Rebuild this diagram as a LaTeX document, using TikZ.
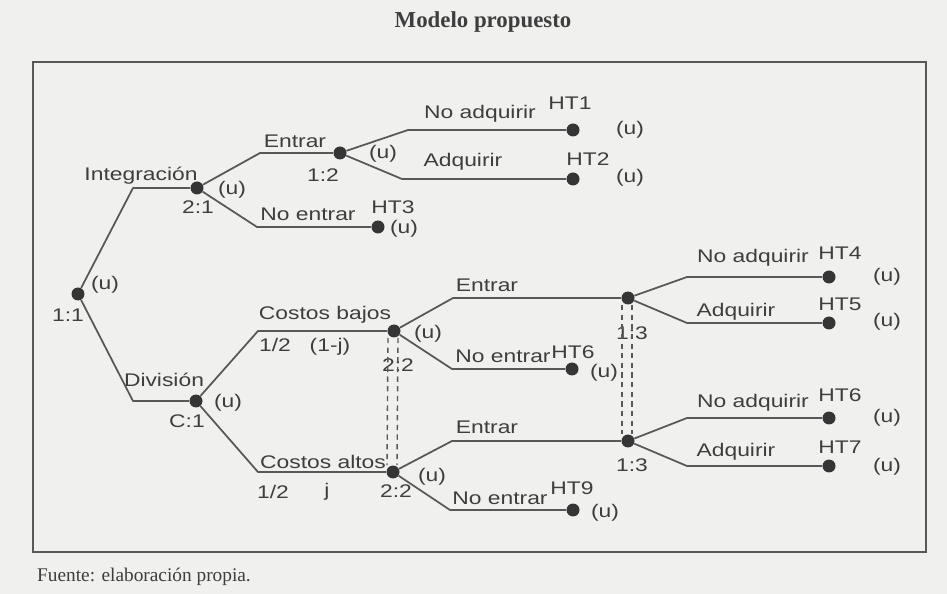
\documentclass[tikz,border=0pt]{standalone}
\usepackage{fontspec}
\setmainfont{Liberation Serif}
\newfontfamily\treefont{Liberation Sans}[FakeStretch=1.25]
\definecolor{paper}{RGB}{240,240,238}
\definecolor{ink}{RGB}{62,62,62}
\definecolor{linegray}{RGB}{88,88,88}

\begin{document}
\begin{tikzpicture}[x=0.02cm, y=-0.02cm,
  dot/.style={circle, fill=ink!85!black, inner sep=0pt, minimum size=0.26cm},
  lbl/.style={font=\treefont\fontsize{10.4}{12}\selectfont, text=ink, inner sep=0pt},
  branch/.style={draw=linegray, line width=1pt, line join=round},
  fork/.style={to path={-- ([shift={(#1,0)}]\tikztostart |- \tikztotarget) -- (\tikztotarget)}},
  infoset/.style={draw=linegray, line width=0.8pt, dash pattern=on 3pt off 2.5pt}]

  % Page and frame
  \fill[paper] (0,0) rectangle (947,594);
  \useasboundingbox (0,0) rectangle (947,594);
  \draw[line width=1.4pt, draw=linegray] (33,62) rectangle (926,552);
  \node[font=\bfseries\fontsize{13}{15}\selectfont, text=ink] (title) at (483,22) {Modelo propuesto};
  \node[font=\fontsize{11}{13}\selectfont, text=ink, anchor=west] (fuente) at (31,577) {Fuente: elaboración propia.};

  % Decision nodes
  \node[dot] (n11) at (78,294) {};
  \node[dot] (n21) at (197,188) {};
  \node[dot] (n12) at (340,153) {};
  \node[dot] (c1) at (196,401) {};
  \node[dot] (n22a) at (394,331) {};
  \node[dot] (n22b) at (393,472) {};
  \node[dot] (n13a) at (628,298) {};
  \node[dot] (n13b) at (628,441) {};

  % Terminal nodes
  \node[dot] (ht1) at (573,130) {};
  \node[dot] (ht2) at (573,179) {};
  \node[dot] (ht3) at (378,227) {};
  \node[dot] (ht6a) at (572,369) {};
  \node[dot] (ht9) at (573,510) {};
  \node[dot] (ht4) at (829,277) {};
  \node[dot] (ht5) at (829,323) {};
  \node[dot] (ht6b) at (829,418) {};
  \node[dot] (ht7) at (829,466) {};

  % Player labels
  \node[lbl] (p11) at (68,315) {1:1};
  \node[lbl] (u11) at (105,285) {(u)};
  \node[lbl] (p21) at (198,207) {2:1};
  \node[lbl] (u21) at (232,190) {(u)};
  \node[lbl] (p12) at (323,175) {1:2};
  \node[lbl] (u12) at (383,154) {(u)};
  \node[lbl] (pc1) at (187,421) {C:1};
  \node[lbl] (uc1) at (228,403) {(u)};
  \node[lbl] (p22a) at (398,365) {2:2};
  \node[lbl] (u22a) at (428,334) {(u)};
  \node[lbl] (p22b) at (396,491) {2:2};
  \node[lbl] (u22b) at (432,477) {(u)};
  \node[lbl] (p13a) at (632,333) {1:3};
  \node[lbl] (p13b) at (632,465) {1:3};

  % Branch labels
  \node[lbl] (lint) at (141,176) {Integración};
  \node[lbl] (ldiv) at (164,380) {División};
  \node[lbl] (lent1) at (295,141) {Entrar};
  \node[lbl] (lnoent1) at (308,214) {No entrar};
  \node[lbl] (lnoadq1) at (480,114) {No adquirir};
  \node[lbl] (ladq1) at (463,162) {Adquirir};
  \node[lbl] (lbajos) at (325,315) {Costos bajos};
  \node[lbl] (lpb) at (275,345) {1/2};
  \node[lbl] (lqb) at (330,347) {(1-j)};
  \node[lbl] (laltos) at (323,462) {Costos altos};
  \node[lbl] (lpa) at (273,492) {1/2};
  \node[lbl] (lqa) at (327,492) {j};
  \node[lbl] (lent2) at (487,285) {Entrar};
  \node[lbl] (lnoent2) at (503,356) {No entrar};
  \node[lbl] (lent3) at (487,427) {Entrar};
  \node[lbl] (lnoent3) at (500,498) {No entrar};
  \node[lbl] (lnoadq2) at (753,258) {No adquirir};
  \node[lbl] (ladq2) at (736,312) {Adquirir};
  \node[lbl] (lnoadq3) at (753,403) {No adquirir};
  \node[lbl] (ladq3) at (736,452) {Adquirir};

  % Payoffs
  \node[lbl] (tht1) at (570,103) {HT1};
  \node[lbl] (uht1) at (630,130) {(u)};
  \node[lbl] (tht2) at (588,159) {HT2};
  \node[lbl] (uht2) at (630,178) {(u)};
  \node[lbl] (tht3) at (393,207) {HT3};
  \node[lbl] (uht3) at (404,229) {(u)};
  \node[lbl] (tht6a) at (573,352) {HT6};
  \node[lbl] (uht6a) at (604,373) {(u)};
  \node[lbl] (tht9) at (572,488) {HT9};
  \node[lbl] (uht9) at (605,513) {(u)};
  \node[lbl] (tht4) at (840,253) {HT4};
  \node[lbl] (uht4) at (887,277) {(u)};
  \node[lbl] (tht5) at (840,304) {HT5};
  \node[lbl] (uht5) at (887,322) {(u)};
  \node[lbl] (tht6b) at (840,395) {HT6};
  \node[lbl] (uht6b) at (887,418) {(u)};
  \node[lbl] (tht7) at (840,447) {HT7};
  \node[lbl] (uht7) at (887,467) {(u)};

  % Branches
  \draw[branch] (n11) to[fork=55] (n21);
  \draw[branch] (n11) to[fork=55] (c1);
  \draw[branch] (n21) to[fork=63] (n12);
  \draw[branch] (n21) to[fork=60] (ht3);
  \draw[branch] (n12) to[fork=68] (ht1);
  \draw[branch] (n12) to[fork=62] (ht2);
  \draw[branch] (c1) to[fork=62] (n22a);
  \draw[branch] (c1) to[fork=62] (n22b);
  \draw[branch] (n22a) to[fork=59] (n13a);
  \draw[branch] (n22a) to[fork=58] (ht6a);
  \draw[branch] (n22b) to[fork=59] (n13b);
  \draw[branch] (n22b) to[fork=57] (ht9);
  \draw[branch] (n13a) to[fork=59] (ht4);
  \draw[branch] (n13a) to[fork=59] (ht5);
  \draw[branch] (n13b) to[fork=59] (ht6b);
  \draw[branch] (n13b) to[fork=59] (ht7);

  % Information sets
  \draw[infoset] ([shift={(-6,0)}]n22a.south) -- ([shift={(-6,0)}]n22b.north);
  \draw[infoset] ([shift={(4,0)}]n22a.south) -- ([shift={(4,0)}]n22b.north);
  \draw[infoset] ([shift={(-6,0)}]n13a.south) -- ([shift={(-6,0)}]n13b.north);
  \draw[infoset] ([shift={(4,0)}]n13a.south) -- ([shift={(4,0)}]n13b.north);

\end{tikzpicture}
\end{document}
